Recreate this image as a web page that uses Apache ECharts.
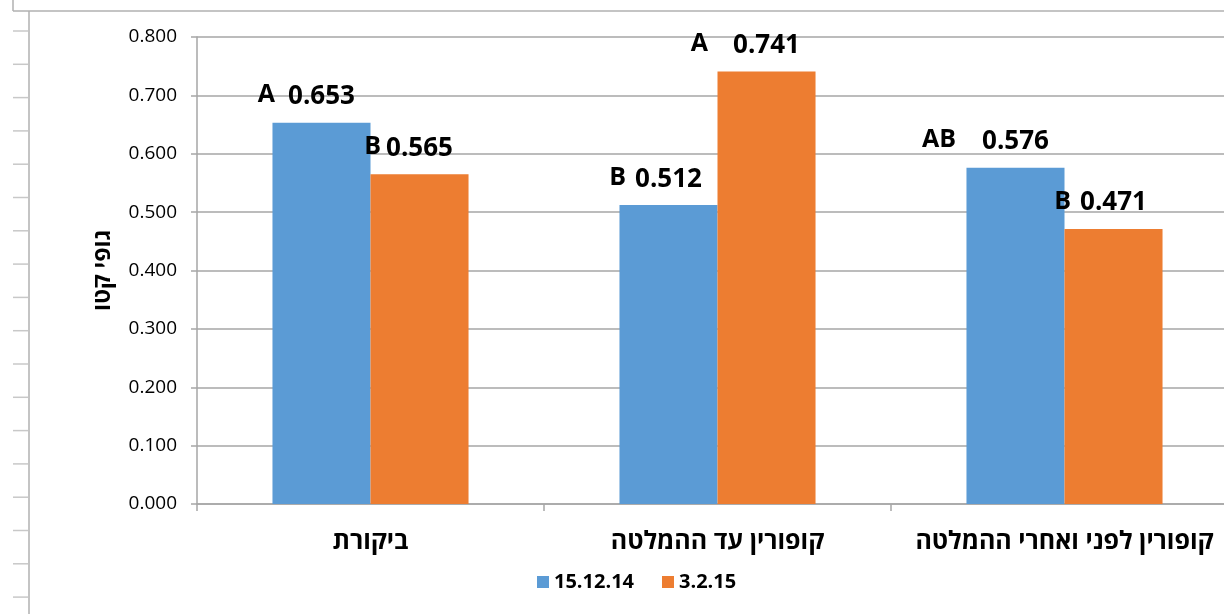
<!DOCTYPE html>
<html>
<head>
<meta charset="utf-8">
<script src="https://cdn.jsdelivr.net/npm/echarts@6/dist/echarts.min.js"></script>
<style>
html,body{margin:0;padding:0;background:#fff;overflow:hidden;}
#c{width:1250px;height:614px;}
</style>
</head>
<body>
<div id="c"></div>
<script>
// ---- data ----
const categories = ['ביקורת', 'קופורין עד ההמלטה', 'קופורין לפני ואחרי ההמלטה'];
const seriesNames = ['15.12.14', '3.2.15'];
const values1 = [0.653, 0.512, 0.576];
const values2 = [0.565, 0.741, 0.471];
const letters1 = ['A', 'B', 'AB'];
const letters2 = ['B', 'A', 'B'];
const yTicks = [0, 0.1, 0.2, 0.3, 0.4, 0.5, 0.6, 0.7, 0.8];
const yTitle = 'גופי קטו';

// ---- styles ----
const FONT = '"Open Sans","Liberation Sans","DejaVu Sans",sans-serif';
const colors = ['#5b9bd5', '#ed7d31'];
const letterGaps = [[13, 9, 26], [5, 25, 9]];

function makeRich(gaps) {
  const base = {fontSize: 25, fontWeight: 'bold', fontFamily: FONT, padding: [0, 0, 3, 0]};
  const rich = {
    l: Object.assign({color: '#000'}, base),
    h: Object.assign({color: 'rgba(0,0,0,0)'}, base),
    n: {fontSize: 26, fontWeight: 'bold', fontFamily: FONT, color: '#000'}
  };
  gaps.forEach(g => { rich['g' + g] = {width: g, fontSize: 10}; });
  return rich;
}
function makeSeries(k, vals, lets) {
  const gaps = letterGaps[k];
  return {
    name: seriesNames[k],
    type: 'bar',
    data: vals,
    barGap: '0%',
    barCategoryGap: '43.5%',
    itemStyle: {color: colors[k]},
    label: {
      show: true,
      position: 'top',
      distance: 12,
      formatter: p => {
        const L = lets[p.dataIndex], g = gaps[p.dataIndex];
        return `{l|${L}}{g${g}|\u00a0}{n|${p.value.toFixed(3)}}{g${g}|\u00a0}{h|${L}}`;
      },
      rich: makeRich(gaps)
    }
  };
}

const chart = echarts.init(document.getElementById('c'));
const decoTicks = [];
for (let y = 31; y < 614; y += 33.3) {
  decoTicks.push({type: 'line', shape: {x1: 13, y1: y, x2: 28, y2: y}, style: {stroke: '#c8c8c8', lineWidth: 1.5}});
}
chart.setOption({
  animation: false,
  backgroundColor: '#fff',
  grid: {left: 197, right: 12, top: 37, bottom: 110},
  legend: {
    data: seriesNames,
    left: 532,
    top: 567,
    itemWidth: 12,
    itemHeight: 12,
    itemGap: 28,
    icon: 'rect',
    textStyle: {fontSize: 20, fontWeight: 'bold', fontFamily: FONT, color: '#000'}
  },
  xAxis: {
    type: 'category',
    data: categories,
    axisLine: {lineStyle: {color: '#a6a6a6', width: 1.5}},
    axisTick: {show: true, interval: 0, length: 7, lineStyle: {color: '#a6a6a6', width: 1.5}},
    axisLabel: {interval: 0, hideOverlap: false, fontSize: 25, fontWeight: 'bold', fontFamily: FONT, color: '#000', margin: 25}
  },
  yAxis: {
    type: 'value',
    min: 0,
    max: 0.8,
    interval: 0.1,
    name: yTitle,
    nameLocation: 'middle',
    nameGap: 82,
    nameRotate: 90,
    nameTextStyle: {fontSize: 23, fontWeight: 'bold', fontFamily: FONT, color: '#000'},
    axisLine: {show: true, lineStyle: {color: '#a6a6a6', width: 1.5}},
    axisTick: {show: true, length: 6, lineStyle: {color: '#a6a6a6', width: 1.5}},
    axisLabel: {fontSize: 19, fontFamily: FONT, color: '#000', margin: 20,
      formatter: v => v.toFixed(3)},
    splitLine: {lineStyle: {color: '#a6a6a6', width: 1.5}}
  },
  graphic: [
    {type: 'line', shape: {x1: 13, y1: 11, x2: 1250, y2: 11}, style: {stroke: '#b0b0b0', lineWidth: 1.5}},
    {type: 'line', shape: {x1: 13, y1: 0, x2: 13, y2: 11}, style: {stroke: '#b0b0b0', lineWidth: 1.5}},
    {type: 'line', shape: {x1: 29, y1: 11, x2: 29, y2: 614}, style: {stroke: '#b0b0b0', lineWidth: 1.5}},
    ...decoTicks
  ],
  series: [makeSeries(0, values1, letters1), makeSeries(1, values2, letters2)]
});
</script>
</body>
</html>
